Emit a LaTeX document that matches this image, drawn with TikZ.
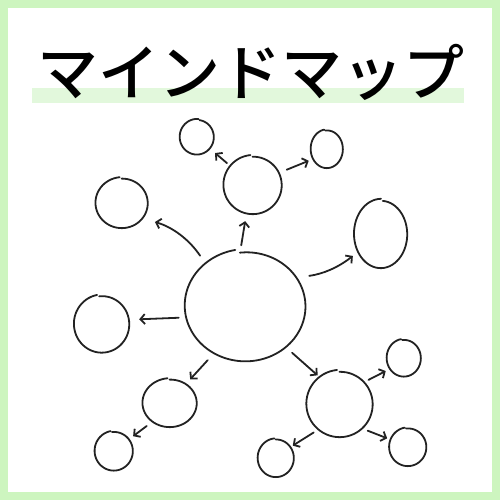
\documentclass[tikz,border=0pt]{standalone}
\usepackage{fontspec}
\newfontfamily\jpfont{Noto Sans CJK JP Medium}
\usetikzlibrary{arrows.meta,shapes.geometric}
\definecolor{framegreen}{HTML}{CDF5BF}
\definecolor{hilite}{HTML}{E2F8DC}
\definecolor{ink}{HTML}{222222}
\newcommand\bub[6]{%
  \node[spot, minimum width={2pt*#4}, minimum height={2pt*#5}] (#1) at (#2,#3) {};
  \pgfmathsetmacro\bubend{#6+356}
  \draw[hand] plot[smooth, domain=#6:\bubend, samples=60, variable=\t]
    ({#2+#4*(1.035-0.06*(\t-#6)/356)*cos(\t)},{#3+#5*(1.035-0.06*(\t-#6)/356)*sin(\t)});
}
\begin{document}
\begin{tikzpicture}[x=1pt,y=1pt,
  hand/.style={draw=ink, line width=1.8pt, line cap=round, line join=round},
  spot/.style={ellipse, inner sep=0pt, outer sep=0pt, draw=none},
  arr/.style={draw=ink, line width=1.8pt, line cap=round, line join=round,
    -{Straight Barb[length=4.5pt,width=10pt]}}]
\fill[framegreen] (0,0) rectangle (500,500);
\fill[white] (8,8) rectangle (492,492);
\useasboundingbox (0,0) rectangle (500,500);
\fill[hilite] (32,397) rectangle (464,412);
\node[font=\jpfont\fontsize{61}{61}\selectfont, inner sep=0pt] (title) at (251,428) {マインドマップ};
\bub{M}{246}{194}{60}{55}{100}
\bub{TM}{253}{315}{29}{29}{95}
\bub{TL}{197}{363}{17}{17.5}{85}
\bub{TR}{327}{351}{16}{19}{100}
\bub{LU}{122}{297}{26}{25}{95}
\bub{R}{381}{266}{26.5}{34}{90}
\bub{L}{102}{176}{27.5}{28.5}{100}
\bub{LL}{170}{97}{27}{24}{95}
\bub{LLL}{114}{49}{19}{19.5}{100}
\bub{LR}{340}{96}{33}{33}{95}
\bub{RT}{404}{142}{17}{18.5}{100}
\bub{RB}{408}{53}{18.5}{19}{100}
\bub{BM}{276}{42}{18}{19}{95}
\draw[arr, shorten <=6pt, shorten >=8pt] (M.96) -- (TM.257);
\draw[arr, shorten <=5pt, shorten >=7pt] (TM.140) -- (TL.318);
\draw[arr, shorten <=8pt, shorten >=5pt] (TM.25) -- (TR.216);
\draw[arr, shorten <=11pt, shorten >=13pt] (M.134) to[bend right=20] (LU.323);
\draw[arr, shorten <=12pt, shorten >=7pt] (M.29) to[bend right=15] (R.218);
\draw[arr, shorten <=8.5pt, shorten >=10pt] (M.191) -- (L.9);
\draw[arr, shorten <=10pt, shorten >=6pt] (M.236) -- (LL.50);
\draw[arr, shorten <=8.5pt, shorten >=3.5pt] (M.314) -- (LR.127);
\draw[arr, shorten <=7.5pt, shorten >=5pt] (LL.227) -- (LLL.38);
\draw[arr, shorten <=4.5pt, shorten >=5pt] (LR.42) -- (RT.218);
\draw[arr, shorten <=6pt, shorten >=4pt] (LR.312) -- (RB.157);
\draw[arr, shorten <=6pt, shorten >=2.5pt] (LR.230) -- (BM.37);
\end{tikzpicture}
\end{document}
